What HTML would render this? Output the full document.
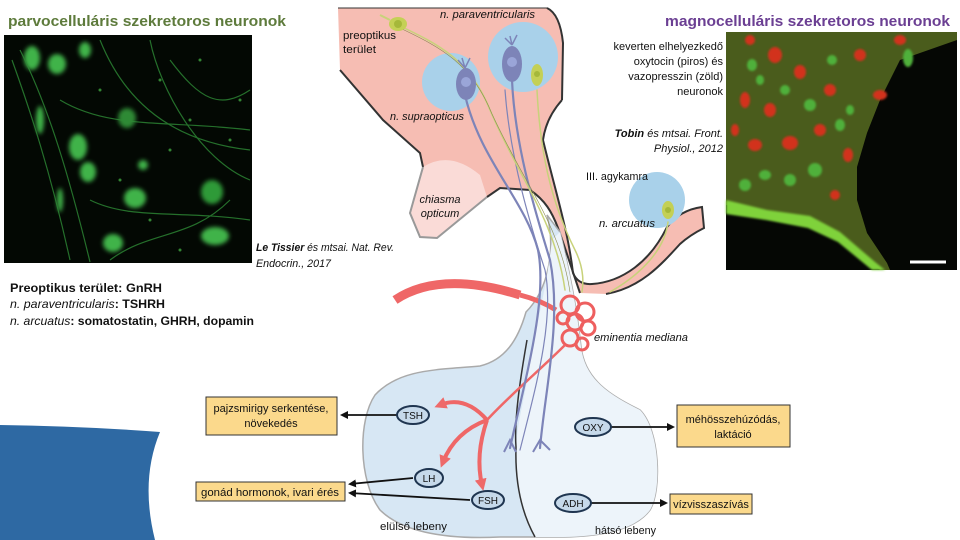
<!DOCTYPE html>
<html><head><meta charset="utf-8">
<style>
html,body{margin:0;padding:0;background:#fff;}
svg{display:block;}
text{font-family:"Liberation Sans",sans-serif;}
</style></head>
<body>
<svg width="960" height="540" viewBox="0 0 960 540" xmlns="http://www.w3.org/2000/svg">
<defs>
<filter id="bl" x="-50%" y="-50%" width="200%" height="200%"><feGaussianBlur stdDeviation="2.2"/></filter>
<filter id="bl1" x="-50%" y="-50%" width="200%" height="200%"><feGaussianBlur stdDeviation="1"/></filter>
<marker id="ah" markerWidth="8" markerHeight="8" refX="6" refY="4" orient="auto" markerUnits="userSpaceOnUse"><path d="M0,0 L8,4 L0,8 Z" fill="#111"/></marker>
<marker id="rh" markerWidth="12" markerHeight="12" refX="6" refY="6" orient="auto" markerUnits="userSpaceOnUse"><path d="M0,0 L12,6 L0,12 Z" fill="#ee6a6a"/></marker>
</defs>

<text x="8" y="26" font-size="15" font-weight="bold" fill="#5e7b3c" textLength="278" lengthAdjust="spacingAndGlyphs">parvocelluláris szekretoros neuronok</text>
<text x="665" y="26" font-size="15" font-weight="bold" fill="#6b3f93" textLength="285" lengthAdjust="spacingAndGlyphs">magnocelluláris szekretoros neuronok</text>

<!-- left micrograph -->
<rect x="4" y="35" width="248" height="228" fill="#030803"/>
<g fill="#3fb34a" filter="url(#bl)">
<ellipse cx="32" cy="58" rx="8" ry="12"/><ellipse cx="57" cy="64" rx="9" ry="10"/><ellipse cx="85" cy="50" rx="6" ry="8"/>
<ellipse cx="127" cy="118" rx="9" ry="10" fill="#2e8a36"/><ellipse cx="78" cy="147" rx="9" ry="13"/><ellipse cx="88" cy="172" rx="8" ry="10"/>
<ellipse cx="135" cy="198" rx="11" ry="10"/><ellipse cx="212" cy="192" rx="11" ry="12" fill="#2e9a38"/><ellipse cx="113" cy="243" rx="10" ry="9"/>
<ellipse cx="215" cy="236" rx="14" ry="9"/><ellipse cx="143" cy="165" rx="5" ry="5"/><ellipse cx="40" cy="120" rx="4" ry="14"/><ellipse cx="60" cy="200" rx="3" ry="12"/>
</g>
<g fill="#3fa540" opacity="0.8">
<circle cx="100" cy="90" r="1.5"/><circle cx="160" cy="80" r="1.5"/><circle cx="190" cy="120" r="1.5"/><circle cx="230" cy="140" r="1.5"/><circle cx="170" cy="150" r="1.5"/><circle cx="150" cy="220" r="1.5"/><circle cx="200" cy="60" r="1.5"/><circle cx="240" cy="100" r="1.5"/><circle cx="120" cy="180" r="1.5"/><circle cx="180" cy="250" r="1.5"/>
</g>
<g stroke="#2e8a36" stroke-width="1.2" fill="none" opacity="0.8">
<path d="M12,60 C30,110 50,170 70,260"/><path d="M20,50 C50,110 70,180 90,262"/><path d="M100,40 C120,90 160,140 250,150"/>
<path d="M60,100 C110,130 170,120 250,130"/><path d="M150,40 C160,90 200,160 250,180"/><path d="M90,200 C130,220 180,210 250,220"/>
<path d="M170,60 C200,100 220,110 250,90"/><path d="M110,260 C150,230 190,240 230,200"/>
</g>

<!-- right micrograph -->
<rect x="726" y="32" width="231" height="238" fill="#050704"/>
<path d="M726,32 L957,32 L957,40 L900,60 L880,100 L867,133 L857,167 L857,200 L867,233 L887,263 L890,270 L880,270 L840,237 L810,220 L767,213 L726,205 Z" fill="#4a5c1c"/>
<path d="M726,200 L767,210 L810,216 L840,232 L875,262 L885,270 L872,270 L838,242 L808,228 L766,220 L726,214 Z" fill="#7fd23a" filter="url(#bl1)"/>
<g fill="#d2321e" filter="url(#bl1)">
<ellipse cx="775" cy="55" rx="7" ry="8"/><ellipse cx="800" cy="72" rx="6" ry="7"/><ellipse cx="745" cy="100" rx="5" ry="8"/><ellipse cx="770" cy="110" rx="6" ry="7"/>
<ellipse cx="830" cy="90" rx="6" ry="6"/><ellipse cx="755" cy="145" rx="7" ry="6"/><ellipse cx="790" cy="143" rx="8" ry="7"/><ellipse cx="848" cy="155" rx="5" ry="7"/>
<ellipse cx="880" cy="95" rx="7" ry="5"/><ellipse cx="900" cy="40" rx="6" ry="5"/><ellipse cx="735" cy="130" rx="4" ry="6"/><ellipse cx="820" cy="130" rx="6" ry="6"/><ellipse cx="835" cy="195" rx="5" ry="5"/>
<ellipse cx="860" cy="55" rx="6" ry="6"/><ellipse cx="750" cy="40" rx="5" ry="5"/>
</g>
<g fill="#4fb03a" filter="url(#bl1)">
<ellipse cx="752" cy="65" rx="5" ry="6"/><ellipse cx="810" cy="105" rx="6" ry="6"/><ellipse cx="840" cy="125" rx="5" ry="6"/><ellipse cx="908" cy="58" rx="5" ry="9"/>
<ellipse cx="790" cy="180" rx="6" ry="6"/><ellipse cx="765" cy="175" rx="6" ry="5"/><ellipse cx="815" cy="170" rx="7" ry="7"/><ellipse cx="850" cy="110" rx="4" ry="5"/>
<ellipse cx="745" cy="185" rx="6" ry="6"/><ellipse cx="832" cy="60" rx="5" ry="5"/><ellipse cx="785" cy="90" rx="5" ry="5"/><ellipse cx="760" cy="80" rx="4" ry="5"/>
</g>
<line x1="910" y1="262" x2="946" y2="262" stroke="#fff" stroke-width="3"/>

<!-- blue shape bottom-left -->
<path d="M0,425 Q80,426 160,432 Q140,480 155,540 L0,540 Z" fill="#2e69a3"/>

<!-- pink hypothalamus -->
<path d="M338,8 L547,8 Q560,14 563,43 L562,100 Q546,118 543,140 C555,190 568,230 573,273 Q578,285 592,284 C622,282 650,262 667,227 Q680,210 702,207 L704,228 Q690,235 680,244 C660,266 640,288 606,294 L580,293 C572,270 566,250 558,228 C552,212 545,200 530,190 L500,188 L487,197 L437,238 L420,237 L410,213 L423,167 L420,153 L383,120 L340,70 Z" fill="#f6bdb3"/>
<path d="M423,167 Q450,150 480,175 L487,197 L437,238 L420,237 L410,213 Z" fill="#fadbd7"/>
<path d="M340,70 L383,120 L420,153 L423,167" fill="none" stroke="#333" stroke-width="2"/>
<path d="M547,8 Q560,14 563,43 L562,100" fill="none" stroke="#333" stroke-width="2"/>
<path d="M338,8 L547,8" fill="none" stroke="#333" stroke-width="1"/>
<path d="M487,197 L500,188 L530,190 C545,200 552,212 558,228 C566,250 572,270 580,293" fill="none" stroke="#333" stroke-width="2"/>
<path d="M562,100 Q546,118 543,140 C555,190 568,230 573,273 Q578,285 592,284 C622,282 650,262 667,227 Q680,210 702,207 L704,228 Q690,235 680,244 C660,266 640,288 606,294" fill="none" stroke="#333" stroke-width="2"/>
<path d="M423,167 L410,213 L420,237 L437,238 L487,197" fill="none" stroke="#999" stroke-width="2"/>

<circle cx="451" cy="82" r="29" fill="#a9d1ea"/>
<circle cx="523" cy="57" r="35" fill="#a9d1ea"/>
<circle cx="657" cy="200" r="28" fill="#a9d1ea"/>

<!-- pituitary -->
<path d="M547,215 C556,250 548,290 526,312 C518,340 505,360 480,366 C440,370 400,368 375,395 C358,420 358,480 380,510 C400,530 440,540 500,537 L558,537 C600,537 635,530 650,510 C662,490 660,430 640,410 C610,395 585,380 581,347 C578,320 574,290 560,232 Z" fill="#d7e7f4" stroke="#aaa" stroke-width="1.5"/>
<path d="M560,232 C574,290 578,320 581,347 C585,380 610,395 640,410 C660,430 662,490 650,510 C635,530 600,537 558,537 L535,537 C520,510 515,470 516,447 C518,420 525,395 527,380 C532,340 545,300 552,240 Z" fill="#edf4fa"/>
<path d="M527,340 C520,380 514,420 516,447 C515,480 520,510 535,537" fill="none" stroke="#333" stroke-width="1.5"/>

<!-- red arc -->
<path d="M395,300 Q440,270 520,295" fill="none" stroke="#ef6767" stroke-width="9"/>
<path d="M520,295 Q540,300 556,310" fill="none" stroke="#ef6767" stroke-width="5"/>
<g fill="none" stroke="#ee5f5f" stroke-width="3">
<circle cx="570" cy="305" r="9"/><circle cx="585" cy="312" r="9"/><circle cx="575" cy="322" r="8"/><circle cx="588" cy="328" r="7"/>
<circle cx="570" cy="338" r="8"/><circle cx="582" cy="344" r="6"/><circle cx="563" cy="318" r="6"/>
</g>
<path d="M565,345 C540,370 510,395 487,420" fill="none" stroke="#ef6767" stroke-width="2.5"/>
<path d="M487,420 Q465,395 440,405" fill="none" stroke="#ef6767" stroke-width="4" marker-end="url(#rh)"/>
<path d="M487,420 Q455,432 443,462" fill="none" stroke="#ef6767" stroke-width="4" marker-end="url(#rh)"/>
<path d="M487,420 Q475,455 482,485" fill="none" stroke="#ef6767" stroke-width="4" marker-end="url(#rh)"/>

<!-- axons -->
<g fill="none" stroke-linecap="round">
<path d="M465,95 C480,160 525,200 538,250 C548,300 525,380 510,448" stroke="#7d84b8" stroke-width="2.2"/>
<path d="M512,80 C515,150 538,220 550,260 C562,320 545,390 540,448" stroke="#7d84b8" stroke-width="2.2"/>
<path d="M505,90 C510,160 532,230 545,270 C555,320 535,390 520,450" stroke="#7d84b8" stroke-width="1.2"/>
<path d="M398,25 C440,45 470,60 490,110 C520,180 555,220 565,290" stroke="#c8d27a" stroke-width="1.5"/>
<path d="M400,28 C442,48 472,64 492,114 C524,184 560,224 570,292" stroke="#8a8a50" stroke-width="0.6"/>
<path d="M537,90 C540,150 550,200 575,250 C585,270 583,285 582,292" stroke="#c8d27a" stroke-width="1.5"/>
<path d="M668,222 C665,250 640,275 610,292" stroke="#c8d27a" stroke-width="1.5"/>
</g>
<path d="M504,452 L510,440 L516,452" fill="none" stroke="#7d84b8" stroke-width="2"/>
<path d="M533,452 L540,440 L550,450" fill="none" stroke="#7d84b8" stroke-width="2"/>
<path d="M465,68 L458,60 M465,68 L470,58 M465,68 L462,58" stroke="#7d84b8" stroke-width="1.5"/>
<ellipse cx="466" cy="84" rx="10" ry="16" fill="#7d84b8"/><circle cx="466" cy="82" r="5" fill="#9aa5d8"/>
<path d="M512,45 L505,38 M512,45 L517,35 M512,45 L510,36" stroke="#7d84b8" stroke-width="1.5"/>
<ellipse cx="512" cy="64" rx="10" ry="18" fill="#7d84b8"/><circle cx="512" cy="62" r="5" fill="#9aa5d8"/>
<ellipse cx="398" cy="24" rx="9" ry="7" fill="#c4d055"/><circle cx="398" cy="24" r="4" fill="#a5b83a"/>
<path d="M390,20 L380,15" stroke="#c8d27a" stroke-width="2"/>
<ellipse cx="537" cy="75" rx="6" ry="11" fill="#c4d055"/><circle cx="537" cy="74" r="3" fill="#a5b83a"/>
<ellipse cx="668" cy="210" rx="6" ry="9" fill="#c4d055"/><circle cx="668" cy="210" r="3" fill="#a5b83a"/>

<g font-size="11" fill="#111">
<text x="440" y="18" font-style="italic" textLength="95" lengthAdjust="spacingAndGlyphs">n. paraventricularis</text>
<text x="343" y="39" textLength="53" lengthAdjust="spacingAndGlyphs">preoptikus</text>
<text x="343" y="53" textLength="33" lengthAdjust="spacingAndGlyphs">terület</text>
<text x="390" y="120" font-style="italic" textLength="74" lengthAdjust="spacingAndGlyphs">n. supraopticus</text>
<text x="723" y="50" text-anchor="end">keverten elhelyezkedő</text>
<text x="723" y="65" text-anchor="end">oxytocin (piros) és</text>
<text x="723" y="80" text-anchor="end">vazopresszin (zöld)</text>
<text x="723" y="95" text-anchor="end">neuronok</text>
<text x="723" y="137" text-anchor="end" font-style="italic"><tspan font-weight="bold">Tobin</tspan> és mtsai. Front.</text>
<text x="723" y="152" text-anchor="end" font-style="italic">Physiol., 2012</text>
<text x="586" y="180" textLength="62" lengthAdjust="spacingAndGlyphs">III. agykamra</text>
<text x="440" y="203" font-style="italic" text-anchor="middle">chiasma</text>
<text x="440" y="217" font-style="italic" text-anchor="middle">opticum</text>
<text x="599" y="227" font-style="italic" textLength="56" lengthAdjust="spacingAndGlyphs">n. arcuatus</text>
<text x="256" y="251" font-style="italic" textLength="138" lengthAdjust="spacingAndGlyphs"><tspan font-weight="bold">Le Tissier</tspan> és mtsai. Nat. Rev.</text>
<text x="256" y="267" font-style="italic" textLength="75" lengthAdjust="spacingAndGlyphs">Endocrin., 2017</text>
<text x="594" y="341" font-style="italic" textLength="94" lengthAdjust="spacingAndGlyphs">eminentia mediana</text>
<text x="380" y="530" textLength="67" lengthAdjust="spacingAndGlyphs">elülső lebeny</text>
<text x="595" y="534" textLength="61" lengthAdjust="spacingAndGlyphs">hátsó lebeny</text>
</g>
<g font-size="12" fill="#111">
<text x="10" y="292" font-weight="bold" textLength="152" lengthAdjust="spacingAndGlyphs">Preoptikus terület: GnRH</text>
<text x="10" y="308" textLength="155" lengthAdjust="spacingAndGlyphs"><tspan font-style="italic">n. paraventricularis</tspan><tspan font-weight="bold">: TSHRH</tspan></text>
<text x="10" y="325" textLength="244" lengthAdjust="spacingAndGlyphs"><tspan font-style="italic">n. arcuatus</tspan><tspan font-weight="bold">: somatostatin, GHRH, dopamin</tspan></text>
</g>

<g fill="#fbd98c" stroke="#333" stroke-width="1">
<rect x="206" y="397" width="131" height="38"/>
<rect x="196" y="482" width="149" height="19"/>
<rect x="677" y="405" width="113" height="42"/>
<rect x="670" y="494" width="82" height="20"/>
</g>
<g font-size="11" fill="#111" text-anchor="middle">
<text x="271" y="412">pajzsmirigy serkentése,</text>
<text x="271" y="427">növekedés</text>
<text x="270" y="496" textLength="138" lengthAdjust="spacingAndGlyphs">gonád hormonok, ivari érés</text>
<text x="733" y="423">méhösszehúzódás,</text>
<text x="733" y="438">laktáció</text>
<text x="711" y="508">vízvisszaszívás</text>
</g>

<g stroke="#111" stroke-width="1.8" fill="none">
<line x1="397" y1="415" x2="342" y2="415" marker-end="url(#ah)"/>
<line x1="413" y1="478" x2="350" y2="484" marker-end="url(#ah)"/>
<line x1="470" y1="500" x2="350" y2="493" marker-end="url(#ah)"/>
<line x1="611" y1="427" x2="673" y2="427" marker-end="url(#ah)"/>
<line x1="591" y1="503" x2="666" y2="503" marker-end="url(#ah)"/>
</g>

<g fill="#c6d9ea" stroke="#1f3550" stroke-width="2">
<ellipse cx="413" cy="415" rx="16" ry="9"/>
<ellipse cx="429" cy="478" rx="14" ry="9"/>
<ellipse cx="488" cy="500" rx="16" ry="9"/>
<ellipse cx="593" cy="427" rx="18" ry="9"/>
<ellipse cx="573" cy="503" rx="18" ry="9"/>
</g>
<g font-size="10" fill="#111" text-anchor="middle">
<text x="413" y="419">TSH</text>
<text x="429" y="482">LH</text>
<text x="488" y="504">FSH</text>
<text x="593" y="431">OXY</text>
<text x="573" y="507">ADH</text>
</g>
</svg>
</body></html>
